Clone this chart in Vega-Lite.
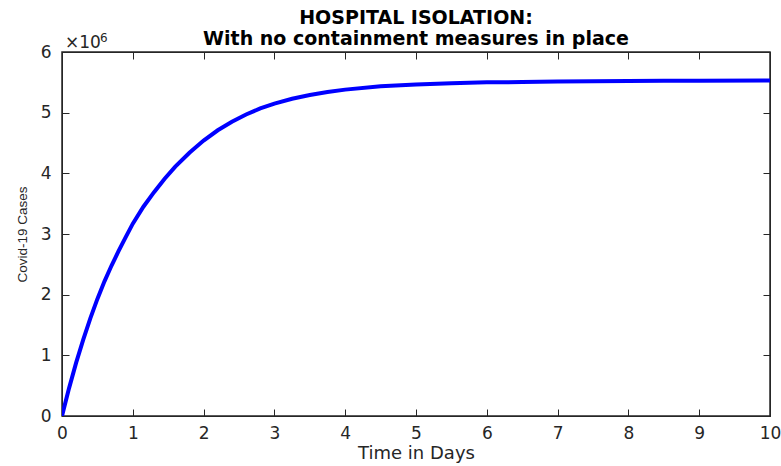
{
  "$schema": "https://vega.github.io/schema/vega-lite/v6.json",
  "autosize": "none",
  "width": 708,
  "height": 364,
  "padding": {"left": 62, "top": 52, "right": 11, "bottom": 50},
  "background": "white",
  "title": {
    "text": ["HOSPITAL ISOLATION:", "With no containment measures in place"],
    "font": "DejaVu Sans",
    "fontSize": 19,
    "fontWeight": "bold",
    "color": "black",
    "anchor": "middle",
    "offset": 4,
    "dy": 21,
    "lineHeight": 21
  },
  "config": {
    "view": {"stroke": "#262626", "strokeWidth": 1.5},
    "axis": {
      "domainColor": "#262626",
      "tickColor": "#262626",
      "tickSize": -7,
      "labelFont": "DejaVu Sans",
      "labelFontSize": 17,
      "labelColor": "#262626",
      "titleFont": "DejaVu Sans",
      "titleFontWeight": "normal",
      "titleColor": "#262626",
      "grid": false
    }
  },
  "layer": [
    {
      "data": {
        "values": [
          {"t": 0, "cases": 0},
          {"t": 0.1, "cases": 460000},
          {"t": 0.2, "cases": 880000},
          {"t": 0.3, "cases": 1260000},
          {"t": 0.4, "cases": 1610000},
          {"t": 0.5, "cases": 1930000},
          {"t": 0.6, "cases": 2220000},
          {"t": 0.7, "cases": 2480000},
          {"t": 0.8, "cases": 2720000},
          {"t": 0.9, "cases": 2950000},
          {"t": 1.0, "cases": 3170000},
          {"t": 1.15, "cases": 3450000},
          {"t": 1.3, "cases": 3690000},
          {"t": 1.45, "cases": 3910000},
          {"t": 1.6, "cases": 4110000},
          {"t": 1.8, "cases": 4340000},
          {"t": 2.0, "cases": 4540000},
          {"t": 2.2, "cases": 4710000},
          {"t": 2.4, "cases": 4850000},
          {"t": 2.6, "cases": 4970000},
          {"t": 2.8, "cases": 5070000},
          {"t": 3.0, "cases": 5150000},
          {"t": 3.25, "cases": 5230000},
          {"t": 3.5, "cases": 5290000},
          {"t": 3.75, "cases": 5340000},
          {"t": 4.0, "cases": 5380000},
          {"t": 4.5, "cases": 5435000},
          {"t": 5.0, "cases": 5465000},
          {"t": 5.5, "cases": 5485000},
          {"t": 6.0, "cases": 5500000},
          {"t": 6.5, "cases": 5505000},
          {"t": 7.0, "cases": 5515000},
          {"t": 8.0, "cases": 5520000},
          {"t": 8.5, "cases": 5525000},
          {"t": 9.0, "cases": 5528000},
          {"t": 10.0, "cases": 5530000}
        ]
      },
      "mark": {"type": "line", "color": "#0000ff", "strokeWidth": 4, "clip": true},
      "encoding": {
        "x": {
          "field": "t", "type": "quantitative",
          "scale": {"domain": [0, 10], "nice": false, "zero": false},
          "axis": {"orient": "bottom", "values": [0,1,2,3,4,5,6,7,8,9,10], "title": "Time in Days", "titleFontSize": 18, "titlePadding": 3, "labelPadding": 16, "labelFlush": false}
        },
        "y": {
          "field": "cases", "type": "quantitative",
          "scale": {"domain": [0, 6000000], "nice": false},
          "axis": {"orient": "left", "values": [0,1000000,2000000,3000000,4000000,5000000,6000000], "labelExpr": "datum.value / 1000000", "title": "Covid-19 Cases", "titleFont": "Liberation Sans", "titleFontSize": 13.5, "titlePadding": 11, "labelPadding": 18, "labelFlush": false}
        }
      }
    },
    {
      "data": {"values": [{"base": "×10", "exp": "6"}]},
      "layer": [
        {
          "mark": {"type": "text", "align": "left", "baseline": "alphabetic", "dx": 3, "dy": -4, "font": "DejaVu Sans", "fontWeight": "normal", "fontSize": 17, "color": "#262626"},
          "encoding": {
            "text": {"field": "base"},
            "x": {"datum": 0, "type": "quantitative", "axis": {"orient": "top", "values": [0,1,2,3,4,5,6,7,8,9,10], "labels": false, "title": null}},
            "y": {"datum": 6000000, "type": "quantitative", "axis": {"orient": "right", "values": [0,1000000,2000000,3000000,4000000,5000000,6000000], "labels": false, "title": null}}
          }
        },
        {
          "mark": {"type": "text", "align": "left", "baseline": "alphabetic", "dx": 38, "dy": -10, "font": "DejaVu Sans", "fontWeight": "normal", "fontSize": 12, "color": "#262626"},
          "encoding": {
            "text": {"field": "exp"},
            "x": {"datum": 0, "type": "quantitative"},
            "y": {"datum": 6000000, "type": "quantitative"}
          }
        }
      ]
    }
  ],
  "resolve": {"axis": {"x": "independent", "y": "independent"}}
}
